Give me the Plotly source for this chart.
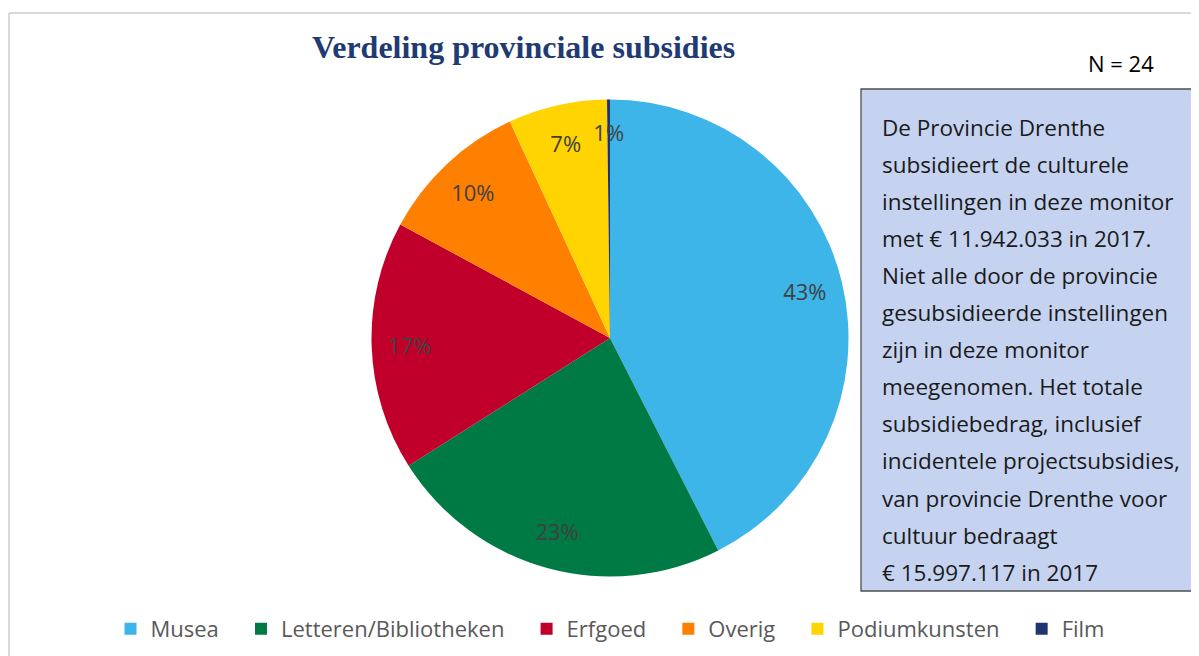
import plotly.graph_objects as go

categories = ["Musea", "Letteren/Bibliotheken", "Erfgoed", "Overig", "Podiumkunsten", "Film"]
shares = [42.5, 23.5, 16.9, 10.2, 6.7, 0.2]
share_labels = ["43%", "23%", "17%", "10%", "7%", "1%"]
colors = ["#3DB5E9", "#007A45", "#C0002A", "#FF8000", "#FFD400", "#1F3573"]

title_text = "Verdeling provinciale subsidies"
n_text = "N = 24"
box_lines = [
    "De Provincie Drenthe",
    "subsidieert de culturele",
    "instellingen in deze monitor",
    "met € 11.942.033 in 2017.",
    "Niet alle door de provincie",
    "gesubsidieerde instellingen",
    "zijn in deze monitor",
    "meegenomen. Het totale",
    "subsidiebedrag, inclusief",
    "incidentele projectsubsidies,",
    "van provincie Drenthe voor",
    "cultuur bedraagt",
    "€ 15.997.117 in 2017",
]

W, H = 1199, 656
OFF = 8  # page body margin


def px(x):
    return (x - OFF) / W


def py(y):
    return 1 - (y - OFF) / H


CX, CY, R = 610, 338, 238.5
pie_domain = dict(x=[px(CX - R), px(CX + R)], y=[py(CY + R), py(CY - R)])
R_small = 0.87 * R
small_domain = dict(x=[px(CX - R_small), px(CX + R_small)], y=[py(CY + R_small), py(CY - R_small)])
pad = "\u00a0\u00a0\u00a0"
legend_labels = [c + pad for c in categories]
n = len(categories)

fig = go.Figure()
# coloured slices
fig.add_trace(go.Pie(
    labels=legend_labels,
    values=shares,
    textinfo="none",
    marker=dict(colors=colors, line=dict(width=0)),
    sort=False,
    direction="clockwise",
    rotation=0,
    domain=pie_domain,
    hoverinfo="label+percent",
))
# transparent ring carrying the percentage labels near the rim (all but the thin last slice)
fig.add_trace(go.Pie(
    labels=legend_labels,
    values=shares,
    text=share_labels[:-1] + [""],
    textinfo="text",
    textposition="inside",
    insidetextorientation="horizontal",
    textfont=dict(family="Open Sans", size=22, color="#404040"),
    marker=dict(colors=["rgba(0,0,0,0)"] * n, line=dict(width=0)),
    sort=False,
    direction="clockwise",
    rotation=0,
    hole=0.68,
    domain=pie_domain,
    showlegend=False,
    hoverinfo="skip",
))
# transparent smaller pie carrying the label of the thin last slice
fig.add_trace(go.Pie(
    labels=legend_labels,
    values=shares,
    text=[""] * (n - 1) + share_labels[-1:],
    textinfo="text",
    textposition="inside",
    insidetextorientation="horizontal",
    textfont=dict(family="Open Sans", size=22, color="#404040"),
    marker=dict(colors=["rgba(0,0,0,0)"] * n, line=dict(width=0)),
    sort=False,
    direction="clockwise",
    rotation=0,
    hole=0.7,
    domain=small_domain,
    showlegend=False,
    hoverinfo="skip",
))

shapes = [
    dict(type="line", xref="paper", yref="paper", x0=px(9), x1=px(1230), y0=py(13), y1=py(13),
         line=dict(color="#D9D9D9", width=2)),
    dict(type="line", xref="paper", yref="paper", x0=px(9), x1=px(9), y0=py(13), y1=py(700),
         line=dict(color="#D9D9D9", width=2)),
    dict(type="rect", xref="paper", yref="paper", x0=px(861), x1=px(1230), y0=py(591), y1=py(89),
         fillcolor="#C5D3F1", line=dict(color="#4D4D4D", width=1.3)),
]

annotations = [
    dict(text="<b>" + title_text + "</b>", xref="paper", yref="paper", x=px(523), y=py(47),
         xanchor="center", yanchor="middle", showarrow=False,
         font=dict(family="Liberation Serif", size=32, color="#1F3B73")),
    dict(text=n_text, xref="paper", yref="paper", x=px(1086), y=py(63),
         xanchor="left", yanchor="middle", showarrow=False,
         font=dict(family="Open Sans", size=22, color="#000000")),
]
for i, line in enumerate(box_lines):
    annotations.append(dict(
        text=line, xref="paper", yref="paper", x=px(880), y=py(127 + i * 37.1),
        xanchor="left", yanchor="middle", showarrow=False,
        font=dict(family="Open Sans", size=22.5, color="#1A1A1A")))

fig.update_layout(
    width=W, height=H,
    margin=dict(l=0, r=0, t=0, b=0),
    paper_bgcolor="white",
    plot_bgcolor="white",
    showlegend=True,
    legend=dict(orientation="h", x=px(619), xanchor="center", y=py(629), yanchor="middle",
                font=dict(family="Open Sans", size=22, color="#595959"),
                traceorder="normal"),
    uniformtext=dict(minsize=22, mode="show"),
    shapes=shapes,
    annotations=annotations,
)

fig.write_html("out.html")
